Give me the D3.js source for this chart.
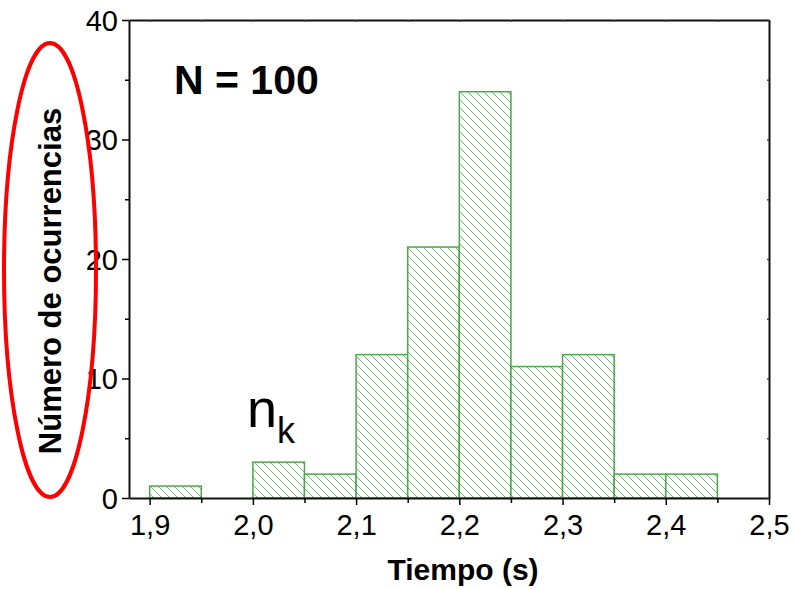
<!DOCTYPE html>
<html lang="es">
<head>
<meta charset="utf-8">
<title>Histograma</title>
<script src="https://d3js.org/d3.v7.min.js"></script>
<style>
	body { margin: 0; background: #fff; }
	svg { display: block; font-family: "Liberation Sans", Arial, sans-serif; }
</style>
</head>
<body>
<div id="chart"></div>
<script>
	// Data
	const binStarts = [1.90, 1.95, 2.00, 2.05, 2.10, 2.15, 2.20, 2.25, 2.30, 2.35, 2.40];
	const counts = [1, 0, 3, 2, 12, 21, 34, 11, 12, 2, 2];
	const binWidth = 0.05;
	const xTicks = [1.9, 2.0, 2.1, 2.2, 2.3, 2.4, 2.5];
	const xMinorTicks = [1.95, 2.05, 2.15, 2.25, 2.35, 2.45];
	const yTicks = [0, 10, 20, 30, 40];
	const yMinorTicks = [5, 15, 25, 35];

	const width = 795;
	const height = 589;
	const margin = { top: 20, right: 26, bottom: 91, left: 129 };

	const svg = d3.select("#chart")
		.append("svg")
		.attr("width", width)
		.attr("height", height);

	// Scales
	const x = d3.scaleLinear()
		.domain([1.88, 2.5])
		.range([margin.left, width - margin.right]);

	const y = d3.scaleLinear()
		.domain([0, 40])
		.range([height - margin.bottom, margin.top]);

	// Hatch pattern
	const defs = svg.append("defs");
	const pat = defs.append("pattern")
		.attr("id", "hatch")
		.attr("patternUnits", "userSpaceOnUse")
		.attr("width", 8)
		.attr("height", 8);
	pat.append("rect").attr("width", 8).attr("height", 8).attr("fill", "#fff");
	pat.append("path")
		.attr("d", "M-2,-2 L10,10 M-2,6 L2,10 M6,-2 L10,2")
		.attr("stroke", "#6cbf6c")
		.attr("stroke-width", 1);

	// Bars
	const bins = binStarts.map((b, i) => ({ x0: b, x1: b + binWidth, n: counts[i] }))
		.filter(d => d.n > 0);

	svg.append("g")
		.selectAll("rect")
		.data(bins)
		.join("rect")
		.attr("x", d => x(d.x0))
		.attr("y", d => y(d.n))
		.attr("width", d => x(d.x1) - x(d.x0))
		.attr("height", d => y(0) - y(d.n))
		.attr("fill", "url(#hatch)")
		.attr("stroke", "#4aa84a")
		.attr("stroke-width", 1.5);

	// Axes
	const fmt = d => d3.format(".1f")(d).replace(".", ",");

	const xAxis = svg.append("g")
		.attr("transform", `translate(0,${y(0)})`)
		.call(d3.axisBottom(x).tickValues(xTicks).tickFormat(fmt).tickSize(7).tickSizeOuter(0));
	svg.append("g")
		.attr("transform", `translate(0,${y(0)})`)
		.call(d3.axisBottom(x).tickValues(xMinorTicks).tickFormat("").tickSize(5).tickSizeOuter(0))
		.call(g => g.select(".domain").remove());

	const yAxis = svg.append("g")
		.attr("transform", `translate(${x(1.88)},0)`)
		.call(d3.axisLeft(y).tickValues(yTicks).tickSize(7).tickSizeOuter(0));
	svg.append("g")
		.attr("transform", `translate(${x(1.88)},0)`)
		.call(d3.axisLeft(y).tickValues(yMinorTicks).tickFormat("").tickSize(4).tickSizeOuter(0))
		.call(g => g.select(".domain").remove());

	// Top and right frame with small inward ticks
	svg.append("g")
		.attr("transform", `translate(0,${y(40)})`)
		.call(d3.axisTop(x).tickValues(xTicks.concat(xMinorTicks)).tickFormat("").tickSize(-2).tickSizeOuter(0))
		.call(g => g.selectAll("line").attr("stroke", "#444"));
	svg.append("g")
		.attr("transform", `translate(${x(2.5)},0)`)
		.call(d3.axisRight(y).tickValues(yTicks.concat(yMinorTicks)).tickFormat("").tickSize(-2).tickSizeOuter(0))
		.call(g => g.selectAll("line").attr("stroke", "#444"));

	svg.selectAll(".domain").attr("stroke", "#111").attr("stroke-width", 2);
	svg.selectAll(".tick line").attr("stroke-width", 1.5);

	xAxis.selectAll("text")
		.attr("font-size", 29)
		.attr("fill", "#000")
		.attr("dy", 0)
		.attr("y", 37);

	yAxis.selectAll("text")
		.attr("font-size", 29)
		.attr("fill", "#000")
		.attr("x", -11)
		.attr("dy", "0.35em");

	// Axis titles
	svg.append("text")
		.attr("x", 463)
		.attr("y", 580)
		.attr("text-anchor", "middle")
		.attr("font-size", 30)
		.attr("font-weight", "bold")
		.text("Tiempo (s)");

	svg.append("text")
		.attr("transform", "translate(61,281) rotate(-90)")
		.attr("text-anchor", "middle")
		.attr("font-size", 31)
		.attr("font-weight", "bold")
		.text("Número de ocurrencias");

	// Annotations
	svg.append("text")
		.attr("x", 174)
		.attr("y", 94)
		.attr("font-size", 41)
		.attr("font-weight", "bold")
		.text("N = 100");

	const nk = svg.append("text")
		.attr("x", 247)
		.attr("y", 427);
	nk.append("tspan").attr("font-size", 54).text("n");
	nk.append("tspan").attr("font-size", 36).attr("dy", 16).text("k");

	svg.append("ellipse")
		.attr("cx", 50)
		.attr("cy", 270)
		.attr("rx", 46)
		.attr("ry", 227)
		.attr("fill", "none")
		.attr("stroke", "#ff0000")
		.attr("stroke-width", 4);
</script>
</body>
</html>
